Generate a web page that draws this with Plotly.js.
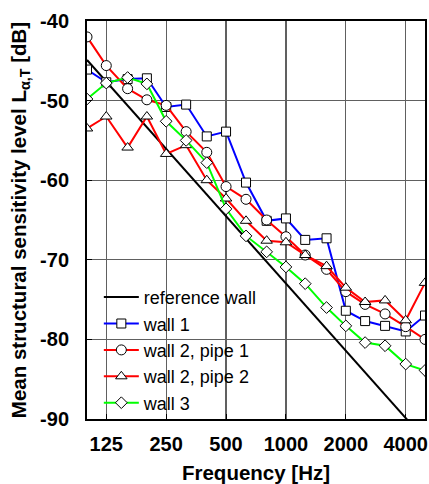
<!DOCTYPE html>
<html>
<head>
<meta charset="utf-8">
<script src="https://cdn.plot.ly/plotly-3.0.1.min.js"></script>
<style>html,body{margin:0;padding:0;background:#fff;}#chart{width:429px;height:484px;}</style>
</head>
<body>
<div id="chart"></div>
<script>
var freqs = [100,125,160,200,250,315,400,500,630,800,1000,1250,1600,2000,2500,3150,4000,5000];
var refFreqs = [100, 5000];
var refWall = [-44.9, -92.6];
var wall1 = [-46.1,-47.7,-47.3,-47.2,-50.8,-50.5,-54.5,-53.9,-60.3,-65.1,-64.8,-67.5,-67.3,-76.4,-77.7,-78.3,-79.0,-77.0];
var wall2pipe1 = [-42.0,-45.6,-48.5,-49.9,-50.6,-53.9,-56.5,-60.8,-62.4,-65.0,-67.1,-69.4,-71.2,-74.0,-75.6,-76.8,-78.4,-80.0];
var wall2pipe2 = [-53.5,-52.0,-55.9,-52.0,-56.7,-55.6,-60.0,-62.3,-65.1,-67.6,-67.8,-69.4,-70.8,-73.5,-75.3,-75.1,-77.6,-72.9];
var wall3 = [-49.8,-47.8,-47.1,-47.9,-52.6,-55.0,-57.8,-63.6,-67.0,-69.0,-70.9,-73.0,-76.0,-78.3,-80.4,-80.8,-83.1,-83.9];
var xTicks = [125,250,500,1000,2000,4000];
var xTickText = ['125','250','500','1000','2000','4000'];
var yTicks = [-90,-80,-70,-60,-50,-40];
var yTickText = ['-90','-80','-70','-60','-50','-40'];

var FONT = 'Liberation Sans, Arial, sans-serif';
function mk(sym, size) {
  return {symbol: sym, size: size, color: '#ffffff', line: {color: '#000000', width: 1}};
}
var traces = [
  {x: refFreqs, y: refWall, name: 'reference wall', mode: 'lines', line: {color: '#000000', width: 2}},
  {x: freqs, y: wall1, name: 'wall 1', mode: 'lines+markers', line: {color: '#0000ff', width: 2}, marker: mk('square', 9)},
  {x: freqs, y: wall2pipe1, name: 'wall 2, pipe 1', mode: 'lines+markers', line: {color: '#ff0000', width: 2}, marker: mk('circle', 10)},
  {x: freqs, y: wall2pipe2, name: 'wall 2, pipe 2', mode: 'lines+markers', line: {color: '#ff0000', width: 2}, marker: mk('triangle-up', 10)},
  {x: freqs, y: wall3, name: 'wall 3', mode: 'lines+markers', line: {color: '#00ff00', width: 2}, marker: mk('diamond', 9)}
];

var layout = {
  width: 429, height: 484,
  margin: {l: 87, r: 4, t: 21, b: 65},
  paper_bgcolor: '#ffffff', plot_bgcolor: '#ffffff',
  font: {family: FONT, color: '#000000', size: 19},
  showlegend: true,
  legend: {x: 0.035, y: 0.352, xanchor: 'left', yanchor: 'top', bgcolor: 'rgba(0,0,0,0)',
           font: {family: FONT, size: 18, color: '#000000'}, itemwidth: 35, tracegroupgap: 0},
  shapes: [{type: 'rect', xref: 'paper', yref: 'paper', x0: 0, x1: 0.574, y0: 0, y1: 0.342,
            fillcolor: '#ffffff', line: {width: 0}, layer: 'between'}],
  xaxis: {
    type: 'log', range: [Math.log10(100), Math.log10(5000)],
    tickvals: xTicks, ticktext: xTickText,
    ticks: 'inside', ticklen: 5, tickwidth: 1, tickcolor: '#000000',
    showgrid: true, gridcolor: '#606060', gridwidth: 1.3,
    showline: true, linecolor: '#000000', linewidth: 2, mirror: true,
    tickfont: {family: FONT, size: 20, weight: 'bold', color: '#000000'},
    ticklabelstandoff: 6,
    title: {text: 'Frequency [Hz]', font: {family: FONT, size: 20.5, weight: 'bold', color: '#000000'}, standoff: 16},
    zeroline: false
  },
  yaxis: {
    range: [-90, -40], tickvals: yTicks, ticktext: yTickText,
    ticks: 'inside', ticklen: 5, tickwidth: 1, tickcolor: '#000000',
    showgrid: true, gridcolor: '#606060', gridwidth: 1.3,
    showline: true, linecolor: '#000000', linewidth: 2, mirror: true,
    tickfont: {family: FONT, size: 20, weight: 'bold', color: '#000000'},
    ticklabelstandoff: 12,
    title: {text: 'Mean structural sensitivity level L<sub>α,T</sub> [dB]',
            font: {family: FONT, size: 20.5, weight: 'bold', color: '#000000'}, standoff: 8},
    zeroline: false
  }
};
Plotly.newPlot('chart', traces, layout, {displayModeBar: false, staticPlot: true});
</script>
</body>
</html>
